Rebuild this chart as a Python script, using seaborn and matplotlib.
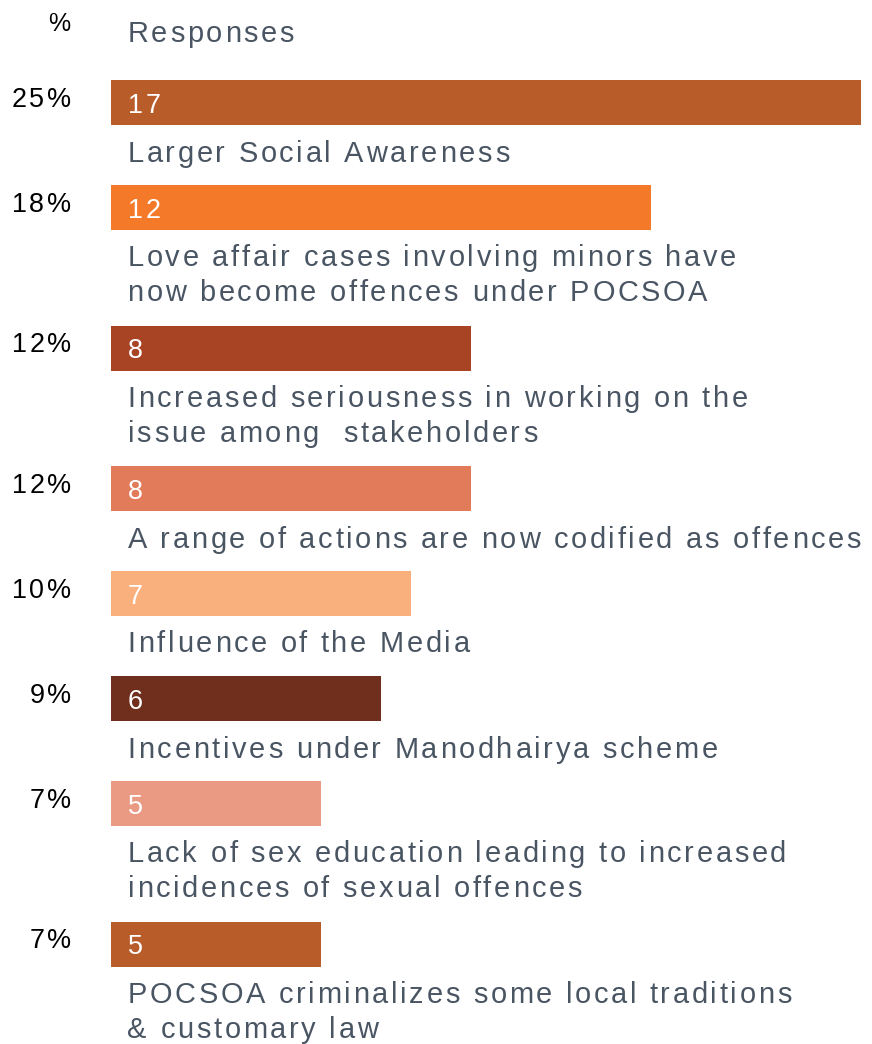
import matplotlib
matplotlib.use("Agg")
import matplotlib.pyplot as plt
import matplotlib.transforms as mtransforms
from matplotlib.font_manager import FontProperties, findfont, get_font
from matplotlib.ft2font import LoadFlags
import numpy as np
import pandas as pd
import seaborn as sns

# Reasons cited for the rise in reported cases
categories = [
    "Larger Social Awareness",
    "Love affair cases involving minors have\nnow become offences under POCSOA",
    "Increased seriousness in working on the\nissue among  stakeholders",
    "A range of actions are now codified as offences",
    "Influence of the Media",
    "Incentives under Manodhairya scheme",
    "Lack of sex education leading to increased\nincidences of sexual offences",
    "POCSOA criminalizes some local traditions\n& customary law",
]
responses = [17, 12, 8, 8, 7, 6, 5, 5]
percent = [25, 18, 12, 12, 10, 9, 7, 7]
percent_labels = ["25%", "18%", "12%", "12%", "10%", "9%", "7%", "7%"]
bar_colors = ["#B85C2A", "#F47A2A", "#A84424", "#E27B5A",
              "#F9B07D", "#702E1C", "#EA9A82", "#B85C2A"]

TEXT_COLOR = "#4A5563"
FAMILY = "Liberation Sans"
W, H, DPI = 872, 1044, 100

sns.set_theme(style="white")
plt.rcParams["font.family"] = [FAMILY, "DejaVu Sans"]

# vertical layout in pixels: each block = bar + caption lines
BAR_H = 45
LINE_H = 34.5
centers = []
top = 80
for lab in categories:
    centers.append(top + BAR_H / 2)
    top += 105 + 35.5 * lab.count("\n")

df = pd.DataFrame({"label": categories, "pct": percent, "pos": centers})

fig = plt.figure(figsize=(W / DPI, H / DPI), dpi=DPI)
BAR_LEFT, BAR_FULL = 111, 750
ax = fig.add_axes([BAR_LEFT / W, 0, BAR_FULL / W, 1])

spacing = np.min(np.diff(centers))
sns.barplot(data=df, x="pct", y="pos", hue="label", palette=bar_colors,
            orient="y", native_scale=True, width=BAR_H / spacing,
            dodge=False, legend=False, saturation=1, ax=ax)
for p in ax.patches:
    p.set_linewidth(0)

ax.set_xlim(0, 25)
ax.set_ylim(H, 0)
ax.set_axis_off()

FONT_FILE = findfont(FontProperties(family=FAMILY))


def advances(s, size_px):
    font = get_font(FONT_FILE)
    font.set_size(size_px, 72)
    return [font.load_char(ord(ch), flags=LoadFlags.NO_HINTING).linearHoriAdvance / 65536
            for ch in s]


def tracked(x_px, y, s, size_px, color, ha="left", track=2.7):
    """Draw s letter by letter with extra spacing; x_px is a figure pixel column."""
    adv = advances(s, size_px)
    total = sum(adv) + track * (len(s) - 1)
    if ha == "right":
        x0 = x_px - total
    elif ha == "center":
        x0 = x_px - total / 2
    else:
        x0 = x_px
    x = x0
    for ch, a in zip(s, adv):
        if ch != " ":
            tr = mtransforms.offset_copy(ax.transData, fig=fig,
                                         x=x - BAR_LEFT, y=0, units="dots")
            ax.text(0, y, ch, transform=tr, ha="left", va="baseline",
                    fontsize=size_px * 72 / DPI, family=FAMILY, color=color)
        x += a + track


LABEL_PX = 29
SMALL_PX = 27
TEXT_X = 127.5

# header row
tracked(59, 31, "%", SMALL_PX - 2, "black", ha="center")
tracked(TEXT_X, 42, "Responses", LABEL_PX, TEXT_COLOR)

for lab, n, pl, c in zip(categories, responses, percent_labels, centers):
    bar_top = c - BAR_H / 2
    bar_bot = c + BAR_H / 2
    tracked(71, bar_top + 27, pl, SMALL_PX, "black", ha="right")
    tracked(TEXT_X, bar_top + 33, str(n), SMALL_PX, "white")
    for i, line in enumerate(lab.split("\n")):
        tracked(TEXT_X, bar_bot + 36.5 + LINE_H * i, line, LABEL_PX, TEXT_COLOR)

fig.savefig("out.png", dpi=DPI)
